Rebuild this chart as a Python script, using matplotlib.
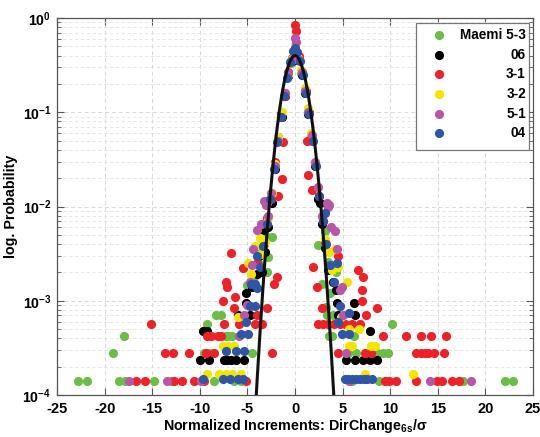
import numpy as np
import matplotlib
matplotlib.use("Agg")
import matplotlib.pyplot as plt
from matplotlib.ticker import FixedLocator, FuncFormatter, LogLocator, NullFormatter
from matplotlib.patches import Rectangle

plt.rcParams['font.family'] = ['Liberation Sans', 'DejaVu Sans']
plt.rcParams['mathtext.fontset'] = 'custom'
plt.rcParams['mathtext.rm'] = 'Liberation Sans:bold'
plt.rcParams['mathtext.bf'] = 'Liberation Sans:bold'
plt.rcParams['mathtext.it'] = 'Liberation Sans:bold:italic'
plt.rcParams['axes.unicode_minus'] = False

# ---- data: normalized increments (x) and probability (p) per series ----
labels = ["Maemi 5-3", "06", "3-1", "3-2", "5-1", "04"]
colors = ["#6abd45", "#000000", "#ee2028", "#f2e500", "#b857a8", "#2f56a6"]

green_x = [-0.05, 0.3, -0.4, 0.65, -0.75, 1.0, -1.1, 1.35, -1.45, 1.7, -1.8, 2.05, -2.15,
           2.45, -2.5, 2.4, -2.4, 2.8, -2.8, -2.9, 3.1, -3.2, 3.5, -3.6, 3.3, -5.0, 3.9, 4.0,
           -3.8, 4.3, -4.3, 3.7,
           -22.8, -21.9, -18.5, -17.9, -14.8, -13.0, -8.5, -6.4, -5.7, 6.0, 8.8, 17.6, 22.1, 22.9,
           -19.1, -9.6, -8.9, -4.5, 5.6, 6.4, 8.6, 9.2, 9.8,
           -18.0, -7.3, -6.9, -6.6, 3.6, 6.2,
           -9.2, 10.2, -8.3, -7.8, 3.4]
green_p = [0.40, 0.36, 0.33, 0.26, 0.24, 0.17, 0.16, 0.10, 0.095, 0.055, 0.05, 0.028, 0.026,
           0.012, 0.011, 3.9e-3, 4.8e-3, 1.5e-3, 2.9e-3, 2.0e-3, 5.5e-3, 5.0e-3, 2.6e-3, 2.4e-3, 8.6e-4, 1.47e-3, 4.23e-4, 7.05e-4,
           3.5e-3, 2.0e-3, 1.8e-3, 1.2e-3,
           1.41e-4, 1.41e-4, 1.41e-4, 1.41e-4, 1.41e-4, 1.41e-4, 1.41e-4, 1.41e-4, 1.41e-4, 1.41e-4, 1.41e-4, 1.41e-4, 1.41e-4, 1.41e-4,
           2.82e-4, 2.82e-4, 2.82e-4, 2.82e-4, 2.82e-4, 2.82e-4, 2.82e-4, 2.82e-4, 2.82e-4,
           4.23e-4, 4.23e-4, 4.23e-4, 4.23e-4, 4.23e-4, 4.23e-4,
           5.64e-4, 5.64e-4, 7.05e-4, 7.05e-4, 7.05e-4]

black_x = [0.0, 0.35, -0.35, 0.7, -0.7, 1.05, -1.05, 1.4, -1.4, 1.75, -1.75, 2.1, -2.1, 2.45, -2.45,
           2.8, -2.8, 3.15, -3.15, 3.5, -3.5, -5.2, -4.0, -3.4, 3.7, 2.6, 4.0,
           -3.8, 4.3, -4.5,
           -10.0, -9.0, -7.5, -7.1, -6.7, -6.2, -5.4, 5.4, 6.3, 7.1, 7.9, 8.6,
           -9.7, -9.2, 7.9, -6.0, -4.7, 4.5, 6.3, -5.2, 4.4, 6.2]
black_p = [0.42, 0.36, 0.35, 0.25, 0.24, 0.16, 0.15, 0.095, 0.09, 0.052, 0.05, 0.027, 0.025, 0.012, 0.011,
           6.5e-3, 6.0e-3, 3.6e-3, 3.3e-3, 2.1e-3, 2.0e-3, 1.2e-3, 1.9e-3, 5.6e-3, 2.2e-3, 0.011, 1.6e-3,
           3.0e-3, 1.3e-3, 1.4e-3,
           2.36e-4, 2.36e-4, 2.36e-4, 2.36e-4, 2.36e-4, 2.36e-4, 2.36e-4, 2.36e-4, 2.36e-4, 2.36e-4, 2.36e-4, 2.36e-4,
           4.72e-4, 4.72e-4, 4.72e-4, 7.08e-4, 7.08e-4, 7.08e-4, 7.08e-4, 9.44e-4, 9.44e-4, 9.44e-4]

red_x = [0.0, 0.1, 0.4, -0.35, 0.75, -0.7, 1.1, -1.05, 1.25, -1.25, 1.35, -1.35, 1.45, -1.45,
         1.8, -1.8, 1.8, -1.75, 2.15, -2.1, 1.9, -1.9, 2.5, -2.5, 2.9, -2.9, 3.2, -3.3,
         -6.7, 6.6, 7.1, -2.2, -7.2, -6.3, 2.3, 7.0,
         -4.0, 4.5, -5.5,
         -16.7, -15.8, -12.7, -11.9, -10.6, -9.6, -5.2, 9.5, 9.9, 10.6, 12.7, 14.9, 15.4, 16.5, 17.2,
         -13.7, -12.8, -11.1, -9.4, -8.5, -2.4, 4.5, 7.4, 8.0, 12.7, 13.2, 13.6, 14.0, 14.6, 15.6,
         -9.2, -8.8, -8.1, -7.8, 9.2, 11.7, 13.2, 14.3, 15.9,
         -15.1, -7.5, -5.9, -4.2, -3.5, 2.4, 2.9, 3.5, 4.1, 4.7, 5.3, 6.0, 6.8,
         -4.0, 7.5, -6.4, -2.9, 2.8, 8.6, -7.6, 7.0, -7.1]
red_p = [0.85, 0.72, 0.40, 0.38, 0.26, 0.27, 0.17, 0.15, 0.049, 0.048, 0.0216, 0.0195, 0.10, 0.095,
         0.0148, 0.0128, 0.05, 0.055, 0.028, 0.03, 2.3e-3, 1.8e-3, 0.013, 0.012, 7.0e-3, 7.5e-3, 4.2e-3, 4.0e-3,
         3.2e-3, 2.1e-3, 1.8e-3, 1.5e-3, 1.6e-3, 1.1e-3, 1.4e-3, 1.3e-3,
         2.5e-3, 3.0e-3, 2.2e-3,
         1.41e-4, 1.41e-4, 1.41e-4, 1.41e-4, 1.41e-4, 1.41e-4, 1.41e-4, 1.41e-4, 1.41e-4, 1.41e-4, 1.41e-4, 1.41e-4, 1.41e-4, 1.41e-4, 1.41e-4,
         2.82e-4, 2.82e-4, 2.82e-4, 2.82e-4, 2.82e-4, 2.82e-4, 2.82e-4, 2.82e-4, 2.82e-4, 2.82e-4, 2.82e-4, 2.82e-4, 2.82e-4, 2.82e-4, 2.82e-4,
         4.23e-4, 4.23e-4, 4.23e-4, 4.23e-4, 4.23e-4, 4.23e-4, 4.23e-4, 4.23e-4, 4.23e-4,
         5.64e-4, 5.64e-4, 5.64e-4, 5.64e-4, 5.64e-4, 5.64e-4, 5.64e-4, 5.64e-4, 5.64e-4, 5.64e-4, 5.64e-4, 5.64e-4, 5.64e-4,
         7.05e-4, 7.05e-4, 8.46e-4, 8.46e-4, 8.46e-4, 8.46e-4, 1.0e-3, 1.0e-3, 1.4e-3]

yellow_x = [0.0, 0.3, -0.35, 0.65, -0.7, 1.0, -1.05, 1.35, -1.4, 1.7, -1.75, 2.05, -2.1, 2.4, -2.45,
            2.8, -2.8, 3.2, -3.2, 3.6, -3.6, 3.9, -4.9, 5.5, 4.5, -3.7,
            -4.2, 4.2, -4.6,
            -9.2, -8.0, -7.3, -6.6, -5.7, 7.4, 12.4,
            -7.6, -7.0, -6.4, 5.7, 6.0, 8.0, 8.4,
            5.7, 6.7, -6.0, 4.8]
yellow_p = [0.52, 0.38, 0.37, 0.28, 0.25, 0.18, 0.16, 0.11, 0.10, 0.06, 0.055, 0.03, 0.028, 0.016, 0.014,
            8.0e-3, 7.5e-3, 4.5e-3, 4.2e-3, 3.3e-3, 3.1e-3, 2.1e-3, 2.5e-3, 1.6e-3, 2.3e-3, 4.6e-3,
            3.8e-3, 3.5e-3, 1.9e-3,
            1.67e-4, 1.67e-4, 1.67e-4, 1.67e-4, 1.67e-4, 1.67e-4, 1.67e-4,
            3.34e-4, 3.34e-4, 3.34e-4, 3.34e-4, 3.34e-4, 3.34e-4, 3.34e-4,
            5.0e-4, 5.0e-4, 6.68e-4, 6.68e-4]

purple_x = [0.0, 0.05, 0.35, -0.35, 0.7, -0.7, 1.05, -1.1, 1.4, -1.45, 1.75, -1.8, 2.1, -2.15,
            2.45, -2.5, -2.9, -3.1, -3.3, 3.4, 3.5, 3.6, 2.8, -2.8, -4.0, 4.2, 4.4, -4.4, -4.5, -4.7, 4.9,
            -3.6, 3.8,
            -17.4, -13.5, -9.9, 5.7, 14.2, 18.5,
            5.4, -5.9, -5.4, 5.0, -5.0, 4.7]
purple_p = [0.62, 0.55, 0.37, 0.36, 0.27, 0.26, 0.17, 0.16, 0.10, 0.09, 0.058, 0.05, 0.03, 0.027,
            0.016, 0.014, 0.011, 0.0105, 0.0115, 0.011, 0.0098, 0.0105, 8.0e-3, 8.0e-3, 5.7e-3, 5.5e-3, 3.5e-3, 3.5e-3, 2.4e-3, 1.6e-3, 1.4e-3,
            6.5e-3, 6.0e-3,
            1.41e-4, 1.41e-4, 1.41e-4, 1.41e-4, 1.41e-4, 1.41e-4,
            2.82e-4, 4.23e-4, 7.05e-4, 7.05e-4, 9.0e-4, 1.3e-3]

blue_x = [0.0, -0.2, 0.25, 0.5, -0.5, 0.8, -0.85, 1.15, -1.2, 1.5, -1.5, 1.85, -1.9, 2.2, -2.2,
          2.55, -2.6, 2.9, -2.95, 3.3, -3.35, 3.7, -3.7, 4.1, -4.2, -4.6,
          -4.0, 4.4, 3.2,
          -9.7, -7.6, -6.8, -6.0, -5.5, 5.2, 5.6, 6.0, 6.4, 6.8, 7.2, 7.6, 8.1,
          -7.2, -6.2, -5.4, -5.7, -4.9, 4.9, 5.7, -5.2, 4.5, 5.7, -4.7, -4.2, 4.7, -4.0]
blue_p = [0.48, 0.45, 0.44, 0.35, 0.34, 0.25, 0.23, 0.16, 0.15, 0.095, 0.09, 0.05, 0.048, 0.027, 0.025,
          0.013, 0.012, 7.0e-3, 6.5e-3, 4.0e-3, 3.8e-3, 2.4e-3, 2.3e-3, 1.6e-3, 1.5e-3, 1.5e-3,
          3.0e-3, 2.5e-3, 8.5e-3,
          1.48e-4, 1.48e-4, 1.48e-4, 1.48e-4, 1.48e-4, 1.48e-4, 1.48e-4, 1.48e-4, 1.48e-4, 1.48e-4, 1.48e-4, 1.48e-4, 1.48e-4,
          2.96e-4, 2.96e-4, 2.96e-4, 4.44e-4, 4.44e-4, 4.44e-4, 4.44e-4, 5.9e-4, 5.9e-4, 7.4e-4, 8.9e-4, 8.9e-4, 8.9e-4, 1.35e-3]

series_x = [green_x, black_x, red_x, yellow_x, purple_x, blue_x]
series_p = [green_p, black_p, red_p, yellow_p, purple_p, blue_p]

# Gaussian reference (zero mean, unit variance)
mu, sigma = 0.0, 1.0

fig = plt.figure(figsize=(5.40, 4.37), dpi=100)
ax = fig.add_axes([0.1056, 0.0961, 0.8815, 0.8627])

for xs, ps, c in zip(series_x, series_p, colors):
    ax.plot(xs, ps, 'o', color=c, markersize=6.6, markeredgewidth=0, zorder=3)

xg = np.linspace(-4.3, 4.3, 400)
yg = np.exp(-0.5 * ((xg - mu) / sigma) ** 2) / (sigma * np.sqrt(2 * np.pi))
ax.plot(xg, yg, color='#111111', linewidth=2.2, zorder=4)

ax.set_yscale('log')
ax.set_xlim(-25, 25)
ax.set_ylim(1e-4, 1)

ax.xaxis.set_major_locator(FixedLocator(np.arange(-25, 26, 5)))
ax.xaxis.set_major_formatter(FuncFormatter(lambda v, pos: '%d' % v))
ax.yaxis.set_major_locator(FixedLocator([1e-4, 1e-3, 1e-2, 1e-1, 1e0]))
ax.yaxis.set_major_formatter(FuncFormatter(
    lambda v, pos: r'$\mathbf{10^{%d}}$' % int(round(np.log10(v)))))
ax.yaxis.set_minor_locator(LogLocator(base=10, subs=np.arange(2, 10), numticks=20))
ax.yaxis.set_minor_formatter(NullFormatter())

ax.grid(True, which='major', axis='both', color='#d9d9d9', linestyle=(0, (4, 3)), linewidth=0.7)
ax.grid(True, which='minor', axis='y', color='#e3e3e3', linestyle=(0, (4, 3)), linewidth=0.6)
ax.set_axisbelow(True)

for s in ax.spines.values():
    s.set_color('#555555')
    s.set_linewidth(0.9)
ax.tick_params(which='both', direction='in', top=True, right=True, color='#555555')
ax.tick_params(which='major', length=5, labelsize=10.5, pad=5)
ax.tick_params(axis='y', which='major', labelsize=10.2, pad=4)
ax.tick_params(which='minor', length=3)
for t in ax.get_xticklabels():
    t.set_fontweight('bold')

ax.set_xlabel('Normalized Increments: DirChange$_{\\mathbf{6s}}$/σ',
              fontsize=10.3, fontweight='bold', labelpad=1)
ax.set_ylabel('log. Probability', fontsize=10.3, fontweight='bold')
ax.yaxis.set_label_coords(-0.083, 0.5)

# legend box drawn in axes coordinates
ax.add_patch(Rectangle((0.754, 0.650), 0.2376, 0.337, transform=ax.transAxes,
                       facecolor='white', edgecolor='#777777', linewidth=0.9, zorder=5))
row_y = [0.955, 0.902, 0.851, 0.798, 0.745, 0.695]
for lab, c, yy in zip(labels, colors, row_y):
    ax.plot([0.8025], [yy], 'o', color=c, markersize=6.6, markeredgewidth=0,
            transform=ax.transAxes, zorder=6, clip_on=False)
    ax.text(0.985, yy, lab, transform=ax.transAxes, ha='right', va='center',
            fontsize=9.8, fontweight='bold', zorder=6)

fig.savefig('out.png', dpi=100)
